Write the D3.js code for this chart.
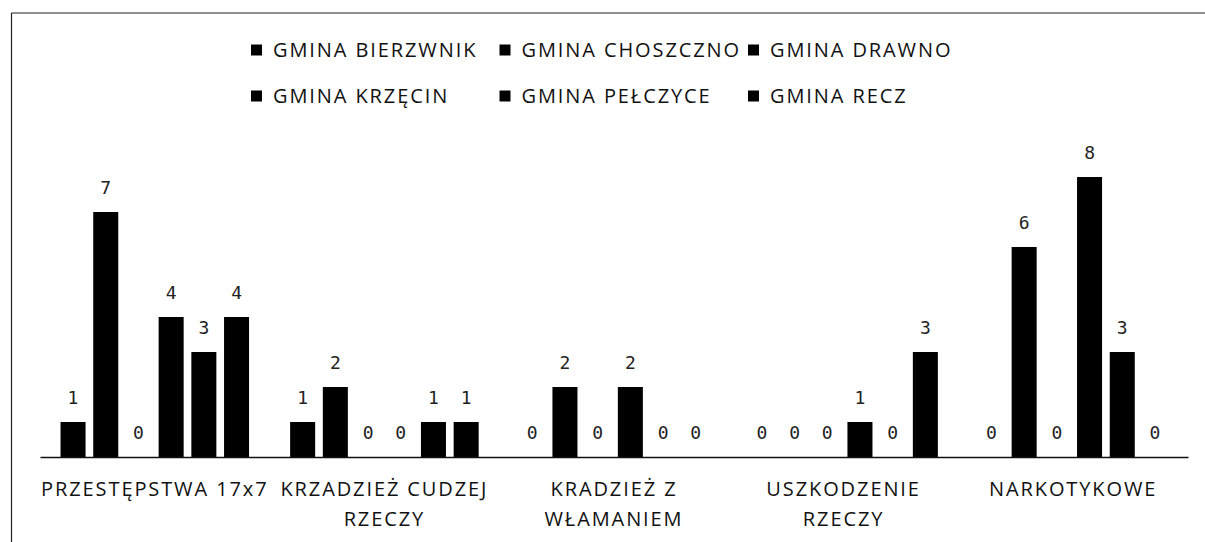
<!DOCTYPE html>
<html>
<head>
<meta charset="utf-8">
<script src="https://cdn.jsdelivr.net/npm/d3@7"></script>
<style>
  body { margin: 0; background: #fff; }
  svg { display: block; }
</style>
</head>
<body>
<script>
// categories (line breaks as they are wrapped under the axis)
var categories = ["PRZESTĘPSTWA 17x7", "KRZADZIEŻ CUDZEJ RZECZY", "KRADZIEŻ Z WŁAMANIEM", "USZKODZENIE RZECZY", "NARKOTYKOWE"];
var categoryLines = [
  ["PRZESTĘPSTWA 17x7"],
  ["KRZADZIEŻ CUDZEJ", "RZECZY"],
  ["KRADZIEŻ Z", "WŁAMANIEM"],
  ["USZKODZENIE", "RZECZY"],
  ["NARKOTYKOWE"]
];
var seriesNames = ["GMINA BIERZWNIK", "GMINA CHOSZCZNO", "GMINA DRAWNO", "GMINA KRZĘCIN", "GMINA PEŁCZYCE", "GMINA RECZ"];

var bierzwnik = [1, 1, 0, 0, 0];
var choszczno = [7, 2, 2, 0, 6];
var drawno    = [0, 0, 0, 0, 0];
var krzecin   = [4, 0, 2, 1, 8];
var pelczyce  = [3, 1, 0, 0, 3];
var recz      = [4, 1, 0, 3, 0];

var seriesValues = [bierzwnik, choszczno, drawno, krzecin, pelczyce, recz];

var W = 1205, H = 542;
var baseY = 457;
var textFont = '"Open Sans", sans-serif';

var svg = d3.select('body').append('svg')
  .attr('width', W)
  .attr('height', H);

// frame of the chart area (only top and left edges are in the picture)
svg.append('line').attr('x1', 11.5).attr('y1', 13).attr('x2', W).attr('y2', 13)
  .attr('stroke', '#222').attr('stroke-width', 1.2);
svg.append('line').attr('x1', 11.5).attr('y1', 13).attr('x2', 11.5).attr('y2', H)
  .attr('stroke', '#222').attr('stroke-width', 1.2);

var x0 = d3.scaleBand()
  .domain(categories)
  .range([40, 1188])
  .paddingInner(0)
  .paddingOuter(0);

var x1 = d3.scaleBand()
  .domain(seriesNames)
  .range([0, x0.bandwidth()])
  .paddingInner(0.235)
  .paddingOuter(0.628);

var y = d3.scaleLinear()
  .domain([0, 8])
  .range([baseY, 177]);

// flatten to one row per bar
var rows = [];
categories.forEach(function(c, ci) {
  seriesNames.forEach(function(s, si) {
    rows.push({cat: c, series: s, value: seriesValues[si][ci]});
  });
});

svg.append('g').selectAll('rect')
  .data(rows)
  .enter().append('rect')
  .attr('x', function(d) { return x0(d.cat) + x1(d.series); })
  .attr('y', function(d) { return y(d.value); })
  .attr('width', x1.bandwidth())
  .attr('height', function(d) { return baseY - y(d.value); })
  .style('fill', '#000');

// value labels
svg.append('g').selectAll('text')
  .data(rows)
  .enter().append('text')
  .attr('x', function(d) { return x0(d.cat) + x1(d.series) + x1.bandwidth() / 2; })
  .attr('y', function(d) { return y(d.value) - 18; })
  .attr('text-anchor', 'middle')
  .style('font-family', '"DejaVu Sans Mono", monospace')
  .style('font-size', '18px')
  .style('font-weight', 300)
  .style('fill', '#222')
  .text(function(d) { return d.value; });

// category axis
var xAxis = svg.append('g')
  .attr('transform', 'translate(0,' + baseY + ')')
  .call(d3.axisBottom(x0).tickSize(0).tickFormat(''));
xAxis.select('.domain').attr('stroke', '#111').attr('stroke-width', 1.6);

svg.append('g').selectAll('text')
  .data(categories)
  .enter().append('text')
  .attr('x', function(d) { return x0(d) + x0.bandwidth() / 2; })
  .attr('y', 496)
  .attr('text-anchor', 'middle')
  .style('font-family', textFont)
  .style('font-size', '20px')
  .style('letter-spacing', '1.9px')
  .style('fill', '#111')
  .each(function(d, i) {
    var t = d3.select(this);
    categoryLines[i].forEach(function(line, li) {
      t.append('tspan')
        .attr('x', x0(d) + x0.bandwidth() / 2)
        .attr('dy', li === 0 ? 0 : 30)
        .text(line);
    });
  });

// legend, 3 per row
var legend = svg.append('g').selectAll('g')
  .data(seriesNames)
  .enter().append('g')
  .attr('transform', function(d, i) {
    return 'translate(' + (251 + (i % 3) * 248.5) + ',' + (50 + Math.floor(i / 3) * 46) + ')';
  });

legend.append('rect')
  .attr('x', 0).attr('y', -5.5)
  .attr('width', 11).attr('height', 11)
  .style('fill', '#000');

legend.append('text')
  .attr('x', 22).attr('y', 7)
  .style('font-family', textFont)
  .style('font-size', '20px')
  .style('letter-spacing', '1.9px')
  .style('fill', '#111')
  .text(function(d) { return d; });
</script>
</body>
</html>
